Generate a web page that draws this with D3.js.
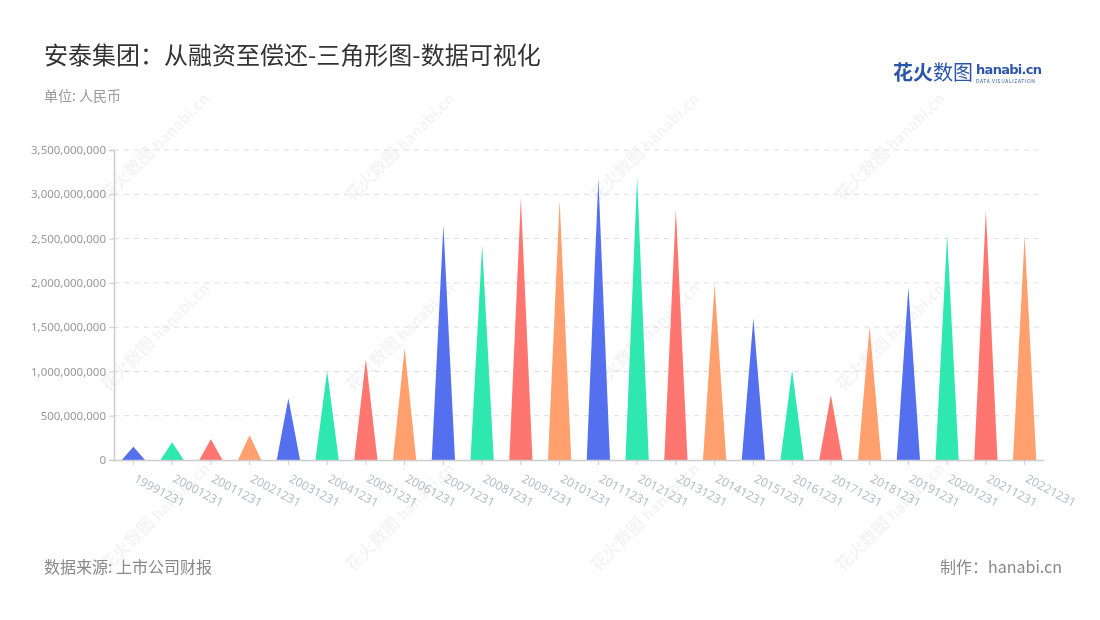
<!DOCTYPE html>
<html><head><meta charset="utf-8">
<script src="https://cdn.jsdelivr.net/npm/d3@7"></script>
<style>
body{margin:0;background:#fff;font-family:"Noto Sans CJK SC","Noto Sans",sans-serif;}
svg{display:block}
</style></head>
<body><svg id="c" width="1100" height="620"></svg>
<script>
const categories = ["19991231","20001231","20011231","20021231","20031231","20041231","20051231","20061231","20071231","20081231","20091231","20101231","20111231","20121231","20131231","20141231","20151231","20161231","20171231","20181231","20191231","20201231","20211231","20221231"];
const values = [150e6,200e6,235e6,280e6,697e6,1005e6,1137e6,1262e6,2653e6,2430e6,2955e6,2935e6,3180e6,3190e6,2834e6,1985e6,1600e6,1013e6,734e6,1505e6,1950e6,2540e6,2815e6,2529e6];
const yTicks = [0,500e6,1000e6,1500e6,2000e6,2500e6,3000e6,3500e6];
const palette = ["#5470ee","#2ee8b0","#ff7670","#ffa06e"];

const svg = d3.select("#c");
const m = {l:114, r:1044, t:150, b:460};
const x = d3.scaleBand().domain(categories).range([m.l, m.r]);
const y = d3.scaleLinear().domain([0,3500e6]).range([m.b, m.t]);
const fmt = d3.format(",");

// watermarks
const wm = svg.append("g").attr("opacity",0.045);
[[160,150],[405,150],[650,150],[895,150],[160,340],[405,340],[650,340],[895,340],[160,520],[405,520],[650,520],[895,520]].forEach(([cx,cy])=>{
  const g = wm.append("g").attr("transform",`translate(${cx},${cy}) rotate(-45)`);
  g.append("text").attr("x",-6).attr("y",0).attr("text-anchor","end").attr("font-size",17).attr("font-weight",700).attr("fill","#000").text("花火数图");
  g.append("text").attr("x",-2).attr("y",0).attr("text-anchor","start").attr("font-size",15).attr("font-weight",700).attr("fill","#000").text("hanabi.cn");
});

// gridlines
svg.append("g").selectAll("line").data(yTicks.slice(1)).join("line")
  .attr("x1",m.l).attr("x2",m.r).attr("y1",d=>y(d)).attr("y2",d=>y(d))
  .attr("stroke","#dddddd").attr("stroke-dasharray","5,5");

// y axis
const ya = svg.append("g").attr("transform",`translate(${m.l},0)`)
  .call(d3.axisLeft(y).tickValues(yTicks).tickFormat(fmt).tickSize(5).tickPadding(3));
ya.select(".domain").attr("stroke","#cccccc").attr("stroke-width",1.5);
ya.selectAll(".tick line").attr("stroke","#cccccc");
ya.selectAll("text").attr("fill","#999").attr("font-size",11.5).attr("font-family","'Noto Sans',sans-serif");

// triangles
const bw = x.bandwidth()*0.6;
svg.append("g").selectAll("path").data(values).join("path")
  .attr("d",(d,i)=>{
    const cx = x(categories[i]) + x.bandwidth()/2;
    return `M${cx-bw/2},${y(0)} L${cx},${y(d)} L${cx+bw/2},${y(0)} Z`;
  })
  .attr("fill",(d,i)=>palette[i%4]);

// x axis
const xa = svg.append("g").attr("transform",`translate(0,${m.b})`)
  .call(d3.axisBottom(x).tickSize(5).tickSizeOuter(0).tickPadding(4));
xa.select(".domain").attr("stroke","#cccccc").attr("stroke-width",1.5);
xa.selectAll(".tick line").attr("stroke","#cccccc");
xa.selectAll("text").attr("fill","#b8bcc8").attr("font-size",12)
  .attr("font-family","'Noto Sans',sans-serif")
  .attr("text-anchor","start").attr("dy","0.7em")
  .attr("transform","translate(8,6) rotate(28)");

// title & texts
svg.append("text").attr("x",44).attr("y",64).attr("font-size",24).attr("fill","#333").text("安泰集团：从融资至偿还-三角形图-数据可视化");
svg.append("text").attr("x",44).attr("y",101).attr("font-size",14).attr("fill","#999").text("单位: 人民币");
svg.append("text").attr("x",44).attr("y",573).attr("font-size",16).attr("fill","#888").text("数据来源: 上市公司财报");
svg.append("text").attr("x",1062).attr("y",573).attr("text-anchor","end").attr("font-size",16).attr("fill","#888").text("制作：hanabi.cn");

// logo
svg.append("text").attr("x",893).attr("y",80).attr("font-size",20).attr("font-weight",700).attr("fill","#2b55a8").text("花火");
svg.append("text").attr("x",933).attr("y",80).attr("font-size",20).attr("fill","#2b55a8").text("数图");
svg.append("text").attr("x",976).attr("y",74).attr("font-size",13).attr("font-weight",700).attr("fill","#2b55a8").attr("font-family","'DejaVu Sans',sans-serif").attr("letter-spacing",-0.7).text("hanabi.cn");
svg.append("text").attr("x",976).attr("y",82.5).attr("font-size",5).attr("fill","#2b55a8").attr("letter-spacing",0.6).text("DATA VISUALIZATION");
</script></body></html>
